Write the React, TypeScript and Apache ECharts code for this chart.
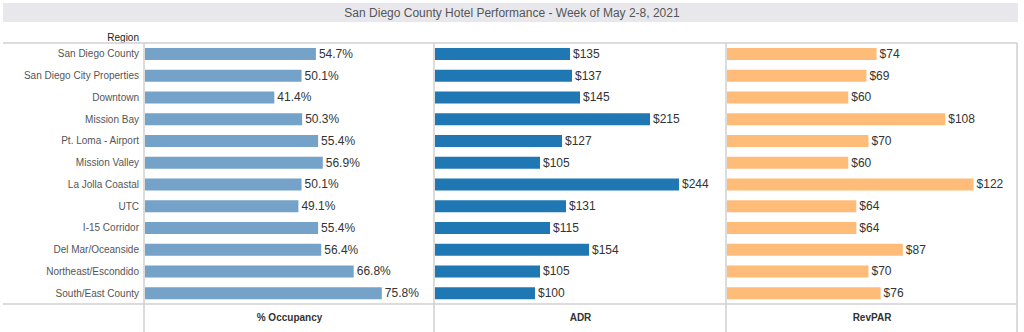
import React, { useEffect, useRef } from "react";
import * as echarts from "echarts";

const title = "San Diego County Hotel Performance - Week of May 2-8, 2021";
const regions = [
  "San Diego County",
  "San Diego City Properties",
  "Downtown",
  "Mission Bay",
  "Pt. Loma - Airport",
  "Mission Valley",
  "La Jolla Coastal",
  "UTC",
  "I-15 Corridor",
  "Del Mar/Oceanside",
  "Northeast/Escondido",
  "South/East County",
];
const occupancy = [54.7, 50.1, 41.4, 50.3, 55.4, 56.9, 50.1, 49.1, 55.4, 56.4, 66.8, 75.8];
const adr = [135, 137, 145, 215, 127, 105, 244, 131, 115, 154, 105, 100];
const revpar = [74, 69, 60, 108, 70, 60, 122, 64, 64, 87, 70, 76];
const measures = ["% Occupancy", "ADR", "RevPAR"];

const FONT = "'Liberation Sans', Arial, sans-serif";

export default function App() {
  const ref = useRef<HTMLDivElement>(null);
  useEffect(() => {
    const chart = echarts.init(ref.current!, null, { renderer: "svg" });
    const top = 43;
    const bottom = 304;
    const h = bottom - top;
    const panels = [
      { left: 144, width: 290, max: 92.5, color: "#74a2c8", data: occupancy, fmt: (v: number) => v.toFixed(1) + "%" },
      { left: 434, width: 292, max: 291, color: "#1f77b4", data: adr, fmt: (v: number) => "$" + v },
      { left: 726, width: 291, max: 143.5, color: "#ffbb78", data: revpar, fmt: (v: number) => "$" + v },
    ];
    const lineStyle = { stroke: "#d0d0d0", lineWidth: 1.5 };
    chart.setOption({
      animation: false,
      textStyle: { fontFamily: FONT },
      grid: panels.map((p) => ({ left: p.left + 1, top, width: p.width - 1, height: h })),
      xAxis: panels.map((p, i) => ({
        type: "value",
        gridIndex: i,
        min: 0,
        max: p.max,
        axisLine: { show: false },
        axisTick: { show: false },
        axisLabel: { show: false },
        splitLine: { show: false },
        name: measures[i],
        nameLocation: "middle",
        nameGap: 8,
        nameTextStyle: { fontSize: 10, fontWeight: "bold", color: "#333", fontFamily: FONT },
      })),
      yAxis: panels.map((p, i) => ({
        type: "category",
        gridIndex: i,
        data: regions,
        inverse: true,
        axisLine: { show: false },
        axisTick: { show: false },
        axisLabel: i === 0 ? { show: true, fontSize: 10, color: "#555", margin: 6, fontFamily: FONT } : { show: false },
      })),
      series: panels.map((p, i) => ({
        type: "bar",
        xAxisIndex: i,
        yAxisIndex: i,
        data: p.data,
        barWidth: 12,
        itemStyle: { color: p.color },
        label: {
          show: true,
          position: "right",
          distance: 3,
          fontSize: 12,
          color: "#333",
          fontFamily: FONT,
          formatter: (d: any) => p.fmt(d.value),
        },
      })),
      graphic: [
        { type: "rect", shape: { x: 3, y: 3, width: 1015, height: 19 }, style: { fill: "#e8e8ec" }, silent: true },
        {
          type: "text",
          x: 512,
          y: 12.5,
          style: { text: title, fill: "#555", fontSize: 12, fontFamily: FONT, textAlign: "center", textVerticalAlign: "middle" },
        },
        {
          type: "text",
          x: 139,
          y: 37,
          style: { text: "Region", fill: "#222", fontSize: 10, fontFamily: FONT, textAlign: "right", textVerticalAlign: "middle" },
        },
        { type: "line", shape: { x1: 3, y1: top, x2: 1017, y2: top }, style: lineStyle, silent: true },
        { type: "line", shape: { x1: 3, y1: bottom, x2: 1017, y2: bottom }, style: lineStyle, silent: true },
        { type: "line", shape: { x1: 144, y1: top, x2: 144, y2: 332 }, style: lineStyle, silent: true },
        { type: "line", shape: { x1: 434, y1: top, x2: 434, y2: 332 }, style: lineStyle, silent: true },
        { type: "line", shape: { x1: 726, y1: top, x2: 726, y2: 332 }, style: lineStyle, silent: true },
        { type: "line", shape: { x1: 1017, y1: top, x2: 1017, y2: 332 }, style: lineStyle, silent: true },
      ],
    });
    return () => chart.dispose();
  }, []);
  return <div ref={ref} style={{ position: "fixed", left: 0, top: 0, width: 1024, height: 332, background: "#fff" }} />;
}
